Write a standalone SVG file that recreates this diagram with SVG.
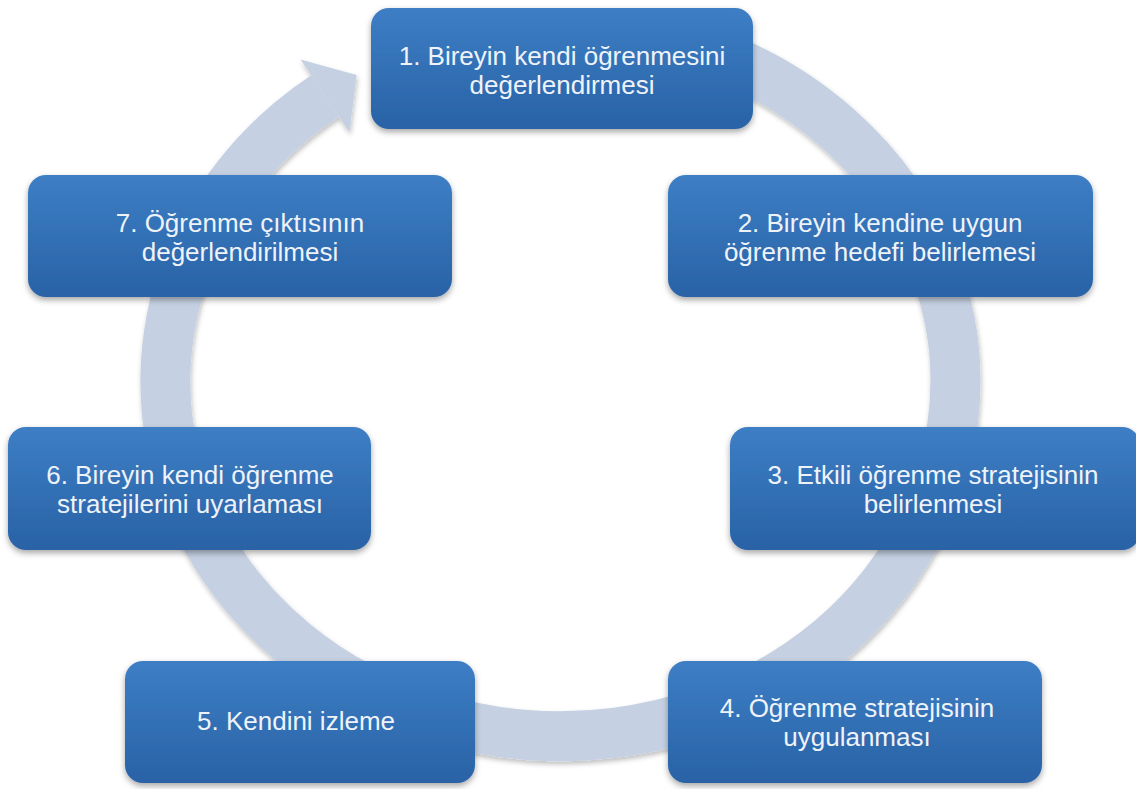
<svg xmlns="http://www.w3.org/2000/svg" width="1136" height="789" viewBox="0 0 1136 789">
<defs>
<linearGradient id="boxGrad" x1="0" y1="0" x2="0" y2="1">
<stop offset="0" stop-color="#3d7ec5"/>
<stop offset="1" stop-color="#2962a5"/>
</linearGradient>
<filter id="boxShadow" x="-10%" y="-20%" width="120%" height="150%">
<feDropShadow dx="0" dy="3" stdDeviation="3" flood-color="#000" flood-opacity="0.35"/>
</filter>
<filter id="ringShadow" x="-10%" y="-10%" width="120%" height="120%">
<feDropShadow dx="1" dy="3" stdDeviation="2.5" flood-color="#000" flood-opacity="0.25"/>
</filter>
<style>
.box{fill:url(#boxGrad);filter:url(#boxShadow);}
.lbl{font-family:"Liberation Sans",Arial,sans-serif;font-size:26px;fill:#eef3f9;text-anchor:middle;}
.ring{fill:none;stroke:#c5d1e3;stroke-width:50;}
.head{fill:#c5d1e3;}
</style>
</defs>
<rect width="1136" height="789" fill="#ffffff"/>
<g id="connectors" filter="url(#ringShadow)">
<path class="ring" d="M 700 49 A 395 355 0 1 1 325 96"/>
<polygon class="head" points="300.5,59.4 356.6,74.9 349.5,132.6"/>
</g>
<g id="node1">
<rect class="box" x="371" y="8" width="382" height="121" rx="18"/>
<text class="lbl"><tspan x="562" y="64.5">1. Bireyin kendi öğrenmesini</tspan><tspan x="562" y="94">değerlendirmesi</tspan></text>
</g>
<g id="node2">
<rect class="box" x="668" y="175" width="425" height="122" rx="18"/>
<text class="lbl"><tspan x="880" y="231.5">2. Bireyin kendine uygun</tspan><tspan x="880" y="261">öğrenme hedefi belirlemesi</tspan></text>
</g>
<g id="node3">
<rect class="box" x="730" y="427" width="410" height="123" rx="18"/>
<text class="lbl"><tspan x="933" y="483.5">3. Etkili öğrenme stratejisinin</tspan><tspan x="933" y="513">belirlenmesi</tspan></text>
</g>
<g id="node4">
<rect class="box" x="668" y="661" width="374" height="122" rx="18"/>
<text class="lbl"><tspan x="857" y="716.5">4. Öğrenme stratejisinin</tspan><tspan x="857" y="746">uygulanması</tspan></text>
</g>
<g id="node5">
<rect class="box" x="125" y="661" width="350" height="122" rx="18"/>
<text class="lbl" x="296" y="730">5. Kendini izleme</text>
</g>
<g id="node6">
<rect class="box" x="8" y="427" width="363" height="123" rx="18"/>
<text class="lbl"><tspan x="190" y="483.5">6. Bireyin kendi öğrenme</tspan><tspan x="190" y="513">stratejilerini uyarlaması</tspan></text>
</g>
<g id="node7">
<rect class="box" x="28" y="175" width="424" height="122" rx="18"/>
<text class="lbl"><tspan x="240" y="231.5">7. Öğrenme çıktısının</tspan><tspan x="240" y="261">değerlendirilmesi</tspan></text>
</g>
</svg>
